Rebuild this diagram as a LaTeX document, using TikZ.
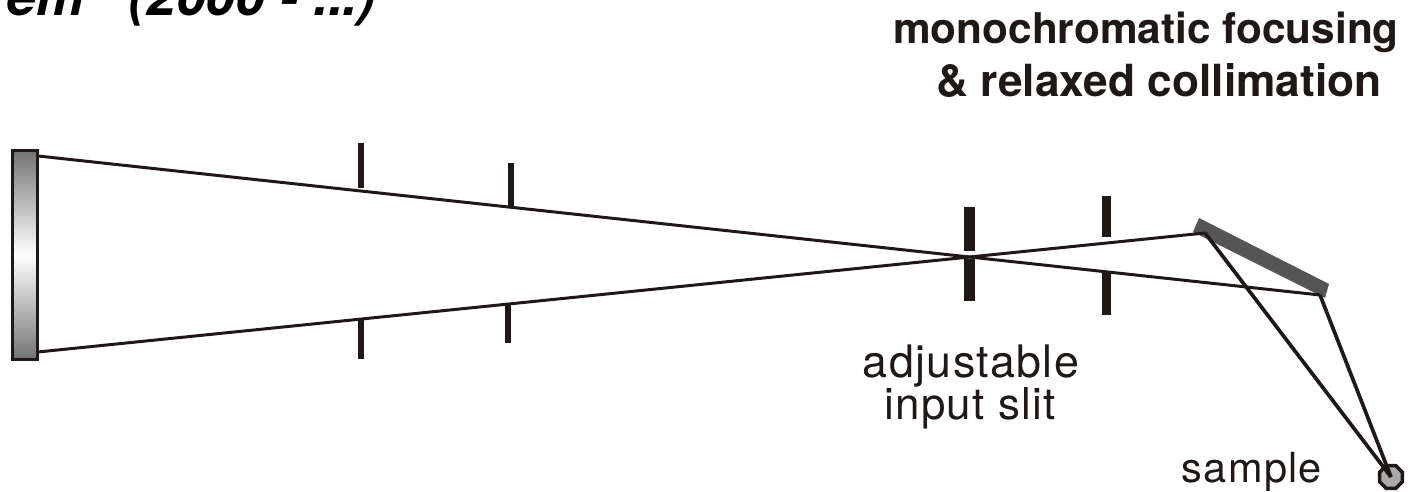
\documentclass[tikz,border=0pt]{standalone}
\usepackage{fontspec}
\setmainfont{TeX Gyre Heros}
\definecolor{mirrorgray}{RGB}{85,85,85}
\definecolor{samplegray}{RGB}{170,170,170}
\definecolor{inkblack}{RGB}{30,25,22}
\definecolor{sourcegray}{RGB}{115,115,115}
\usetikzlibrary{positioning,shapes.geometric}

\begin{document}
\begin{tikzpicture}[
    x=0.02cm, y=-0.02cm,
    slitstyle/.style={rectangle, fill=inkblack, inner sep=0pt},
    raystyle/.style={draw=inkblack, line width=1.7pt},
    beamstyle/.style={draw=inkblack, line width=2.1pt},
    headstyle/.style={text=inkblack, align=center, inner sep=0pt},
    labelstyle/.style={text=inkblack, align=center, inner sep=0pt}
  ]
    \useasboundingbox (0,0) rectangle (1426,492);
    \clip (0,0) rectangle (1426,492);

    % Title, cut by the page
    \node[font=\fontsize{30.5}{32}\selectfont\bfseries\itshape, text=black, anchor=base east, inner sep=0pt]
      (title) at (376,16) {em\ \ \ (2000 - ...)};

    % Heading
    \node[headstyle, font=\fontsize{24.1}{29}\selectfont\bfseries, anchor=base] (headone) at (1146,44) {monochromatic focusing};
    \node[headstyle, font=\fontsize{25.2}{29}\selectfont\bfseries, anchor=base] (headtwo) at (1159,97) {\&\ relaxed collimation};

    % Source
    \node[rectangle, draw=inkblack, line width=1.4pt, top color=sourcegray, bottom color=sourcegray,
          middle color=white, inner sep=0pt, minimum width=14pt, minimum height=119pt] (source) at (25,255) {};
    \coordinate (sourcetop) at (38,156);
    \coordinate (sourcebot) at (38,352);

    % Slits, first pair
    \node[slitstyle, minimum width=2.9pt, minimum height=25.6pt] (slitaup) at (361,165.5) {};
    \node[slitstyle, minimum width=2.9pt, minimum height=23.3pt] (slitalo) at (361,338.5) {};
    \node[slitstyle, minimum width=2.9pt, minimum height=25pt] (slitbup) at (511,185) {};
    \node[slitstyle, minimum width=2.9pt, minimum height=22.2pt] (slitblo) at (508,323.5) {};

    % Slits, second pair
    \node[slitstyle, minimum width=6.2pt, minimum height=25pt] (slitcup) at (969.5,229) {};
    \node[slitstyle, minimum width=6.2pt, minimum height=23.9pt] (slitclo) at (969.5,280) {};
    \node[slitstyle, minimum width=4.8pt, minimum height=23.3pt] (slitdup) at (1106.5,216.5) {};
    \node[slitstyle, minimum width=4.8pt, minimum height=23.9pt] (slitdlo) at (1106.5,294) {};

    % Mirror
    \fill[mirrorgray] (1199,218) -- (1329,284) -- (1325,298) -- (1193,232) -- cycle;
    \coordinate (mirrortop) at (1205,233);
    \coordinate (mirrorbot) at (1320,295);

    % Sample
    \node[regular polygon, regular polygon sides=8, draw=inkblack, fill=samplegray, line width=2pt,
          inner sep=0pt, minimum size=14pt] (sample) at (1391,477) {};

    % Rays
    \draw[raystyle] (sourcetop) -- (mirrorbot);
    \draw[raystyle] (sourcebot) -- (mirrortop);
    \draw[beamstyle] (mirrortop) -- (sample.center);
    \draw[beamstyle] (mirrorbot) -- (sample.center);

    % Labels
    \node[labelstyle, font=\fontsize{25.5}{26}\selectfont\addfontfeature{LetterSpace=3}, anchor=base] (adjust) at (971,378) {adjustable};
    \node[labelstyle, font=\fontsize{25}{26}\selectfont\addfontfeature{LetterSpace=3}, anchor=base] (input) at (970,420) {input slit};
    \node[labelstyle, font=\fontsize{23.6}{24}\selectfont\addfontfeature{LetterSpace=3}, anchor=base] (samplelabel) at (1252,483) {sample};
\end{tikzpicture}
\end{document}
